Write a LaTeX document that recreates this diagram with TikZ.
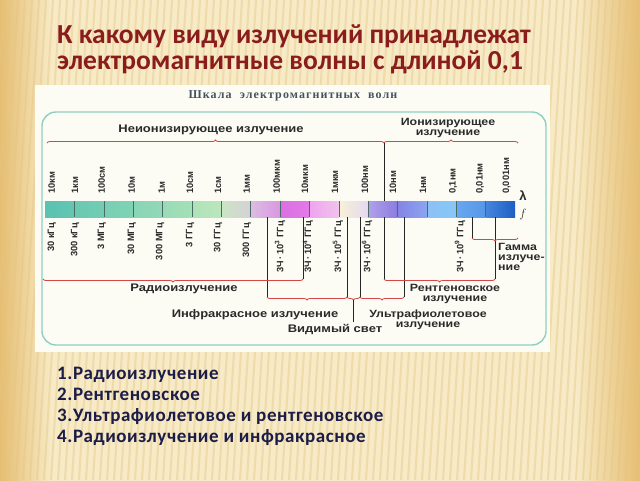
\documentclass[tikz,border=0pt]{standalone}
\usepackage{fontspec}
\setmainfont{Carlito}
\newfontfamily\labfont[FakeStretch=1.18]{Liberation Sans}
\newfontfamily\tickfont{Liberation Sans}
\newfontfamily\hdrfont[LetterSpace=9]{Liberation Serif}
\newfontfamily\ansfont[LetterSpace=3]{Carlito}
\usetikzlibrary{decorations.pathreplacing}
\definecolor{titlered}{HTML}{8A1C1C}
\definecolor{ansblue}{HTML}{1C1C48}
\definecolor{bgedge}{HTML}{E6BE72}
\definecolor{bgmid}{HTML}{F7EAC6}
\definecolor{stripec}{HTML}{E4C482}
\definecolor{panel}{HTML}{FCFCF5}
\definecolor{framec}{HTML}{8ED0C0}
\definecolor{bracered}{HTML}{D24848}
\definecolor{labgray}{HTML}{2A2A2A}
\definecolor{hdrgray}{HTML}{46535E}
\definecolor{divc}{HTML}{4A6A64}
\pgfdeclarehorizontalshading{bgshade}{100bp}{color(0bp)=(bgedge); color(25bp)=(bgedge); color(29bp)=(bgmid); color(70bp)=(bgmid); color(75bp)=(bgedge); color(100bp)=(bgedge)}
\tikzset{
  title/.style={anchor=base west, inner sep=0pt, text=titlered, font=\fontsize{27.5}{30}\selectfont\bfseries},
  ans/.style={anchor=base west, inner sep=0pt, text=ansblue, font=\ansfont\fontsize{19}{21}\selectfont\bfseries},
  lab/.style={inner sep=0pt, text=labgray, align=center, font=\labfont\fontsize{11}{10.5}\selectfont\bfseries},
  lab2/.style={lab, font=\labfont\fontsize{10.5}{10}\selectfont\bfseries},
  wl/.style={rotate=90, anchor=west, inner sep=0pt, text=labgray, font=\tickfont\fontsize{9.3}{9}\selectfont\bfseries},
  fq/.style={rotate=90, anchor=east, inner sep=0pt, text=labgray, font=\tickfont\fontsize{9.3}{9}\selectfont\bfseries},
  blk/.style={draw=black!85, line width=0.7pt},
  brc/.style={draw=bracered, line width=0.8pt, decorate, decoration={brace, amplitude=3pt}},
  brcd/.style={brc, decoration={brace, amplitude=3pt, mirror}},
  divider/.style={draw=divc, line width=0.5pt},
}
\begin{document}
\begin{tikzpicture}[x=1pt, y=-1pt]
\useasboundingbox (0,0) rectangle (640,480);
% background
\shade[shading=bgshade] (0,0) rectangle (640,480);
\foreach \s in {-40,-33,...,680} \draw[stripec, opacity=0.4, line width=2pt] (\s,480) -- (\s+30,0);
% title
\node[title] (t1) at (57,43) {К какому виду излучений принадлежат};
\node[title] (t2) at (57,69) {электромагнитные волны с длиной 0,1};
% panel
\fill[panel] (35,85) rectangle (550,352);
\node[inner sep=0pt, text=hdrgray, font=\hdrfont\fontsize{12}{12}\selectfont\bfseries] (hdr) at (293,96) {Шкала\ \ электромагнитных\ \ волн};
\draw[framec, line width=1.4pt, rounded corners=14pt] (42,112) rectangle (546,345);
% spectrum bar
\foreach \i/\a/\b in {0/5AC2B0/64C6B2, 1/6AC9B2/72CCB3, 2/78CFB4/80D2B5, 3/88D5B6/92D9B6, 4/98DBB6/A4E0B8, 5/AEE2B9/BCE6BB, 6/CAE6C2/D6D0D8, 7/DCBCE2/D898E2, 8/DC6EE4/E27AE6, 9/EEA4EE/F2C2EC, 10/F8F2D6/E4D8F0, 11/B0A0EA/8C7CE0, 12/8484E6/8CA4F0, 13/8CC0F4/86C8F8, 14/68A8F0/5696E8, 15/4686DE/1E5EC2}{
  \definecolor{ca}{HTML}{\a}\definecolor{cb}{HTML}{\b}
  \shade[left color=ca, right color=cb] ({45+29.375*\i},201) rectangle ({45+29.375*(\i+1)},217);
}
\foreach \i in {1,...,15} \draw[divider] ({45+29.375*\i},201) -- ({45+29.375*\i},217);
\node[inner sep=0pt, text=labgray, font=\tickfont\fontsize{13}{13}\selectfont\bfseries] (lam) at (523,196) {λ};
\node[inner sep=0pt, text=labgray, font=\fontsize{13}{13}\selectfont] (frq) at (523,214) {$f$};
% wavelength labels
\foreach \x/\t [count=\k] in {51.7/10км, 75/1км, 101.7/100см, 131.7/10м, 161.7/1м, 190/10см, 218/1см, 246.7/1мм, 276.7/100мкм, 305/10мкм, 335/1мкм, 365/100нм, 393/10нм, 423/1нм, 453/{0,1нм}, 480/{0,01нм}, 506.7/{0,001нм}}
  \node[wl] (wl\k) at (\x,194) {\t};
% frequency labels
\foreach \x/\t [count=\k] in {51.7/30 кГц, 75/300 кГц, 101.7/3 МГц, 131.7/30 МГц, 160/300 МГц, 190/3 ГГц, 218/30 ГГц, 246.7/300 ГГц}
  \node[fq] (fq\k) at (\x,223) {\t};
\foreach \x/\p [count=\k] in {280/3, 308/4, 338/5, 367/6, 460/9}
  \node[fq] (fe\k) at (\x,221) {3Ч\,·\,10\textsuperscript{\p} ГГц};
% top braces
\draw[brc] (47,143) -- (384,143);
\draw[brc] (384,143) -- (518,143);
\coordinate (ionT) at (384,143);
\coordinate (ionB) at (384,201);
\draw[blk] (ionT) -- (ionB);
\node[lab] (nonion) at (211,130) {Неионизирующее излучение};
\node[lab2] (ion) at (448,128) {Ионизирующее\\излучение};
% connector lines below the bar
\foreach \n/\x/\y in {a/267/297, b/303/279, c/347/297, d/360/297, e/384/279, f/404/297, g/472/238, h/495/279}{
  \coordinate (\n top) at (\x,217);
  \coordinate (\n bot) at (\x,\y);
  \draw[blk] (\n top) -- (\n bot);
}
% lower braces
\draw[brcd] (43,279) -- (303,279);
\draw[brcd] (267,297) -- (347,297);
\draw[brcd] (347,297) -- (360,297);
\draw[brcd] (360,297) -- (404,297);
\draw[brcd] (384,279) -- (495,279);
\draw[brcd] (472,238) -- (518,238);
\coordinate (visA) at (353.5,300);
\coordinate (visB) at (353.5,322);
\draw[blk] (visA) -- (visB);
% lower labels
\node[lab] (radio) at (184,289) {Радиоизлучение};
\node[lab] (ir) at (255,315) {Инфракрасное излучение};
\node[lab] (vis) at (335,329) {Видимый свет};
\node[lab2] (uv) at (428,320) {Ультрафиолетовое\\излучение};
\node[lab2] (xr) at (455,294) {Рентгеновское\\излучение};
\node[lab2, align=left, anchor=north west] (gam) at (498,243) {Гамма\\излуче-\\ние};
% answers
\node[ans] (a1) at (57,379) {1.Радиоизлучение};
\node[ans] (a2) at (57,400) {2.Рентгеновское};
\node[ans] (a3) at (57,421) {3.Ультрафиолетовое и рентгеновское};
\node[ans] (a4) at (57,442) {4.Радиоизлучение и инфракрасное};
\end{tikzpicture}
\end{document}
